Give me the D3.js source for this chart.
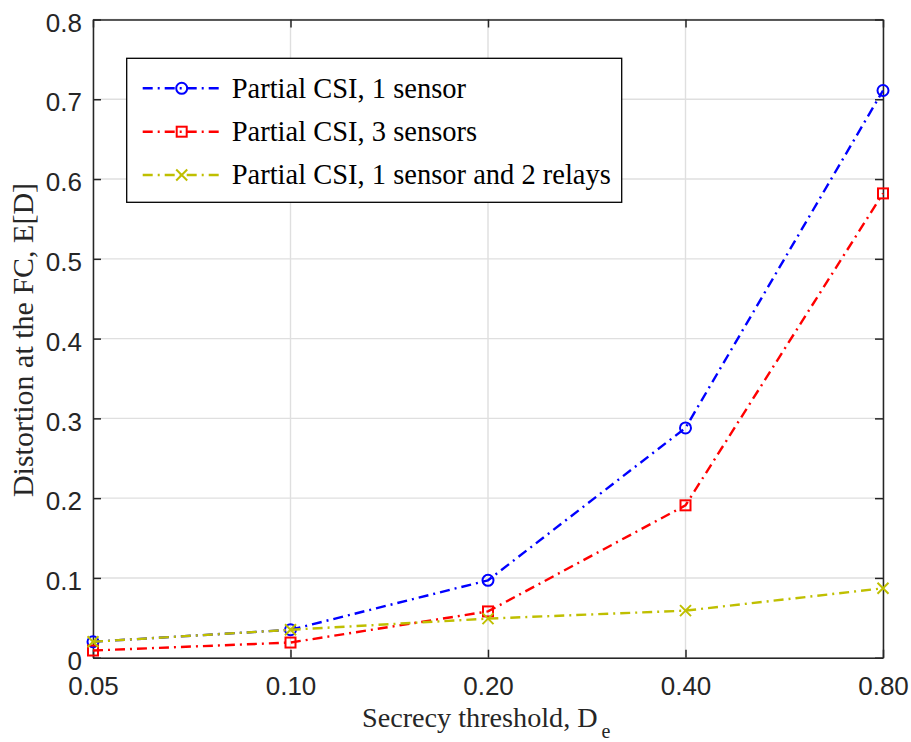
<!DOCTYPE html>
<html><head><meta charset="utf-8">
<script src="https://cdn.jsdelivr.net/npm/d3@7"></script>
<style>body{margin:0;background:#fff}</style>
</head><body>
<svg id="c" width="911" height="742"></svg>
<script>
const categories = ["0.05","0.10","0.20","0.40","0.80"];
const yTicks = [0,0.1,0.2,0.3,0.4,0.5,0.6,0.7,0.8];
const yTickLabels = ["0","0.1","0.2","0.3","0.4","0.5","0.6","0.7","0.8"];
const oneSensor = [0.020,0.035,0.097,0.288,0.711];
const threeSensors = [0.009,0.019,0.058,0.191,0.582];
const relays = [0.020,0.035,0.049,0.059,0.087];
const seriesNames = ["Partial CSI, 1 sensor","Partial CSI, 3 sensors","Partial CSI, 1 sensor and 2 relays"];
const seriesColors = ["#0000ff","#ff0000","#bfbf00"];
const seriesMarkers = ["circle","square","x"];
const seriesData = [oneSensor, threeSensors, relays];

const svg = d3.select("#c");
const L=93, R=883, T=19.5, B=657.7;
const x = d3.scalePoint().domain(categories).range([L,R]).padding(0);
const y = d3.scaleLinear().domain([0,0.8]).range([B,T]);

svg.append("rect").attr("x",0).attr("y",0).attr("width",911).attr("height",742).attr("fill","#fff");
// grid
const g = svg.append("g");
g.selectAll(".gx").data(categories).enter().append("line")
  .attr("x1",d=>x(d)).attr("x2",d=>x(d)).attr("y1",T).attr("y2",B)
  .attr("stroke","#dfdfdf").attr("stroke-width",1.4);
g.selectAll(".gy").data(yTicks).enter().append("line")
  .attr("x1",L).attr("x2",R).attr("y1",d=>y(d)).attr("y2",d=>y(d))
  .attr("stroke","#dfdfdf").attr("stroke-width",1.4);

// axes
const ax = "#262626";
const xb = svg.append("g").attr("transform",`translate(0,${B})`)
  .call(d3.axisBottom(x).tickSizeInner(-8).tickSizeOuter(0).tickPadding(19));
const xt = svg.append("g").attr("transform",`translate(0,${T})`)
  .call(d3.axisTop(x).tickSizeInner(-8).tickSizeOuter(0).tickFormat(""));
const yl = svg.append("g").attr("transform",`translate(${L},0)`)
  .call(d3.axisLeft(y).tickValues(yTicks).tickFormat((d,i)=>yTickLabels[i]).tickSizeInner(-8).tickSizeOuter(0).tickPadding(11));
const yr = svg.append("g").attr("transform",`translate(${R},0)`)
  .call(d3.axisRight(y).tickValues(yTicks).tickFormat("").tickSizeInner(-8).tickSizeOuter(0));
[xb,xt,yl,yr].forEach(a=>{
  a.selectAll("path").attr("stroke",ax).attr("stroke-width",1.5);
  a.selectAll("line").attr("stroke",ax).attr("stroke-width",1.5);
  a.selectAll("text").attr("fill",ax).attr("font-family","'Liberation Sans', Arial, sans-serif").attr("font-size","26px");
});
xb.selectAll("text").attr("dy","0.71em");
yl.selectAll("text").attr("dy","0.45em");

// series
const dash = "10,5,2,5";
function drawMarker(sel, type, color, cx, cy){
  if(type==="circle"){
    sel.append("circle").attr("cx",cx).attr("cy",cy).attr("r",5.5)
      .attr("fill","none").attr("stroke",color).attr("stroke-width",2);
  } else if(type==="square"){
    sel.append("rect").attr("x",cx-5).attr("y",cy-5).attr("width",10).attr("height",10)
      .attr("fill","none").attr("stroke",color).attr("stroke-width",2);
  } else {
    const s=5.5;
    sel.append("path").attr("d",`M${cx-s},${cy-s}L${cx+s},${cy+s}M${cx-s},${cy+s}L${cx+s},${cy-s}`)
      .attr("stroke",color).attr("stroke-width",2).attr("fill","none");
  }
}
const line = d3.line().x((d,i)=>x(categories[i])).y(d=>y(d));
seriesData.forEach((data,k)=>{
  svg.append("path").datum(data).attr("d",line).attr("fill","none")
    .attr("stroke",seriesColors[k]).attr("stroke-width",2.4).attr("stroke-dasharray",dash);
  const mg = svg.append("g");
  data.forEach((v,i)=>drawMarker(mg, seriesMarkers[k], seriesColors[k], x(categories[i]), y(v)));
});

// legend
const lg = svg.append("g");
lg.append("rect").attr("x",126.7).attr("y",58.3).attr("width",495).attr("height",144)
  .attr("fill","#fff").attr("stroke","#000").attr("stroke-width",1.3);
const rowY = [88.3,131.7,175];
seriesNames.forEach((n,k)=>{
  lg.append("line").attr("x1",142.7).attr("x2",221.7).attr("y1",rowY[k]).attr("y2",rowY[k])
    .attr("stroke",seriesColors[k]).attr("stroke-width",2.4).attr("stroke-dasharray",dash);
  drawMarker(lg, seriesMarkers[k], seriesColors[k], 181.7, rowY[k]);
  lg.append("text").attr("x",231.7).attr("y",rowY[k]).attr("dy","0.33em")
    .attr("font-family","'Liberation Serif', 'Times New Roman', serif").attr("font-size","28.5px")
    .attr("fill","#000").text(n);
});

// axis titles
svg.append("text").attr("transform",`translate(33,340) rotate(-90)`)
  .attr("text-anchor","middle").attr("font-family","'Liberation Serif', 'Times New Roman', serif")
  .attr("font-size","30px").attr("fill","#262626").text("Distortion at the FC, E[D]");
const xtitle = svg.append("text").attr("x",362).attr("y",727).attr("text-anchor","start")
  .attr("font-family","'Liberation Serif', 'Times New Roman', serif")
  .attr("font-size","28.2px").attr("fill","#262626");
xtitle.append("tspan").text("Secrecy threshold, D");
xtitle.append("tspan").attr("font-size","20px").attr("dx","4").attr("dy","11").text("e");
</script>
</body></html>
